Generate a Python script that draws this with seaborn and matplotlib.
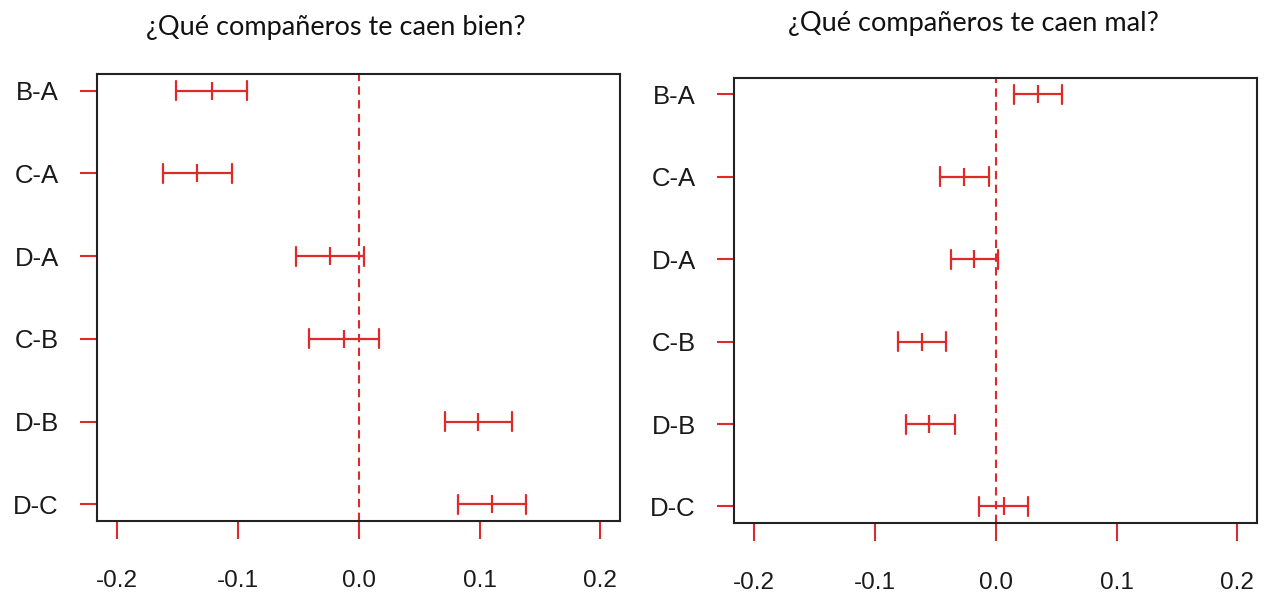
import pandas as pd
import matplotlib.pyplot as plt
import seaborn as sns

# Tukey-style intervals
comparisons = ["B-A", "C-A", "D-A", "C-B", "D-B", "D-C"]

bien_lower = [-0.151, -0.162, -0.052, -0.041, 0.071, 0.082]
bien_diff = [-0.122, -0.134, -0.024, -0.012, 0.099, 0.110]
bien_upper = [-0.093, -0.105, 0.004, 0.017, 0.127, 0.138]

mal_lower = [0.015, -0.046, -0.037, -0.081, -0.074, -0.014]
mal_diff = [0.035, -0.026, -0.018, -0.061, -0.055, 0.007]
mal_upper = [0.055, -0.006, 0.002, -0.041, -0.034, 0.027]

xticks = [-0.2, -0.1, 0.0, 0.1, 0.2]
titles = ["¿Qué compañeros te caen bien?", "¿Qué compañeros te caen mal?"]

RED = "#dd2b2b"
TXT = "#1a1a1a"

sns.set_style("white")
plt.rcParams["font.family"] = ["Liberation Sans", "DejaVu Sans"]


def long_df(lower, diff, upper):
    rows = []
    for c, lo, d, up in zip(comparisons, lower, diff, upper):
        for v in (lo, d, up):
            rows.append({"comp": c, "value": v})
    return pd.DataFrame(rows)


fig = plt.figure(figsize=(12.65, 5.97), dpi=100)
ax1 = fig.add_axes([0.0767, 0.1273, 0.4134, 0.7487])
ax2 = fig.add_axes([0.5802, 0.1240, 0.4134, 0.7454])

panels = [
    (ax1, long_df(bien_lower, bien_diff, bien_upper)),
    (ax2, long_df(mal_lower, mal_diff, mal_upper)),
]

for ax, df in panels:
    ax.set_axisbelow(True)
    ax.grid(axis="y", color="#dcdcdc", lw=2)
    sns.pointplot(
        data=df, x="value", y="comp", order=comparisons,
        estimator="median", errorbar=("pi", 100),
        capsize=0.23, marker="|", markersize=13.5, markeredgewidth=1.6,
        linestyle="none", color=RED, err_kws={"linewidth": 1.6},
        ax=ax,
    )
    ax.axvline(0, color=RED, lw=1.5, linestyle=(0, (4, 2.6)), zorder=1)
    ax.set_xlim(-0.2168, 0.2162)
    ax.set_ylim(5.2, -0.2)
    ax.set_xticks(xticks)
    ax.set_xticklabels([f"{t:.1f}" for t in xticks])
    ax.set_xlabel("")
    ax.set_ylabel("")
    ax.tick_params(axis="y", direction="out", length=12.5, width=1.5,
                   color=RED, pad=15, labelsize=18.5, labelcolor=TXT, left=True)
    ax.tick_params(axis="x", direction="out", length=13, width=1.5,
                   color=RED, pad=22, labelsize=17.5, labelcolor=TXT, bottom=True)
    for s in ax.spines.values():
        s.set_visible(True)
        s.set_color("#222222")
        s.set_linewidth(1.5)

fig.text(336 / 1265, 1 - 27 / 597, titles[0], ha="center", va="center",
         fontsize=19.5, family=["Lato", "DejaVu Sans"], color="#111111")
fig.text(973 / 1265, 1 - 24 / 597, titles[1], ha="center", va="center",
         fontsize=19.5, family=["Lato", "DejaVu Sans"], color="#111111")

fig.savefig("out.png", dpi=100)
